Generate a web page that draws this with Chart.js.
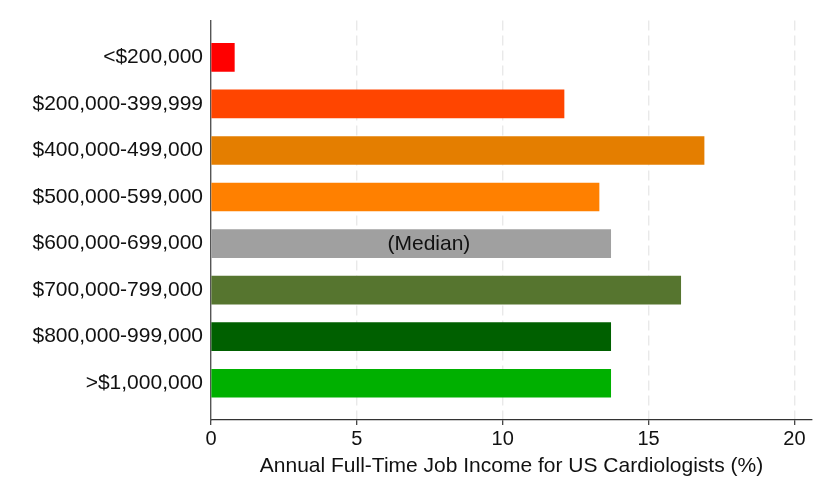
<!DOCTYPE html>
<html>
<head>
<meta charset="utf-8">
<script src="https://cdn.jsdelivr.net/npm/chart.js@4"></script>
<style>
html,body{margin:0;padding:0;background:#fff;}
#wrap{width:831px;height:499px;position:relative;}
</style>
</head>
<body>
<div id="wrap"><canvas id="c" width="831" height="499"></canvas></div>
<script>
const categories = ['<$200,000','$200,000-399,999','$400,000-499,000','$500,000-599,000','$600,000-699,000','$700,000-799,000','$800,000-999,000','>$1,000,000'];
const values = [0.8, 12.1, 16.9, 13.3, 13.7, 16.1, 13.7, 13.7];
const barColors = ['#FF0000','#FF4500','#E47E00','#FF8000','#A0A0A0','#56752F','#006000','#00B000'];
const xTicks = [0, 5, 10, 15, 20];
const xTitle = 'Annual Full-Time Job Income for US Cardiologists (%)';
const medianIndex = 4;
const medianText = '(Median)';

const FONT = "'Liberation Sans', Arial, sans-serif";

const medianPlugin = {
  id: 'medianLabel',
  afterDatasetsDraw(chart) {
    const ctx = chart.ctx;
    const xs = chart.scales.x, ys = chart.scales.y;
    ctx.save();
    ctx.font = '21px ' + FONT;
    ctx.fillStyle = '#111';
    ctx.textAlign = 'center';
    ctx.textBaseline = 'middle';
    ctx.fillText(medianText, xs.getPixelForValue(7.47), ys.getPixelForValue(medianIndex) + 1);
    ctx.restore();
  }
};

new Chart(document.getElementById('c'), {
  type: 'bar',
  data: {
    datasets: [{
      data: values.map((v, i) => ({x: v, y: i})),
      backgroundColor: barColors,
      borderWidth: 0,
      barThickness: 28
    }]
  },
  options: {
    indexAxis: 'y',
    responsive: false,
    animation: false,
    layout: {padding: {top: 18, right: 19, left: 0, bottom: 0}},
    plugins: {legend: {display: false}, tooltip: {enabled: false}},
    scales: {
      x: {
        type: 'linear',
        min: 0,
        max: 20.6,
        offset: false,
        afterBuildTicks: s => { s.ticks = xTicks.map(v => ({value: v})); },
        afterFit: s => { s.height = 79; },
        border: {display: true, color: '#333', width: 1.2, dash: [10, 5]},
        grid: {
          color: ctx => ctx.tick && ctx.tick.value === 0 ? 'rgba(0,0,0,0)' : '#e9e9e9',
          lineWidth: 1.4,
          tickColor: '#333',
          tickLength: 5,
          tickWidth: 1.2,
          tickBorderDash: []
        },
        ticks: {
          color: '#111',
          padding: 2,
          font: {family: FONT, size: 20},
          maxRotation: 0
        },
        title: {
          display: true,
          text: xTitle,
          color: '#111',
          font: {family: FONT, size: 21},
          padding: {top: 0, bottom: 20}
        }
      },
      y: {
        type: 'linear',
        reverse: true,
        offset: false,
        min: -0.79,
        max: 7.79,
        afterBuildTicks: s => { s.ticks = categories.map((_, i) => ({value: i})); },
        afterFit: s => { s.width = 211; },
        border: {display: true, color: '#555', width: 1.4},
        grid: {display: false, drawTicks: false},
        ticks: {
          color: '#111',
          padding: 8,
          font: {family: FONT, size: 21},
          callback: v => categories[v] !== undefined ? categories[v] : ''
        }
      }
    }
  },
  plugins: [medianPlugin]
});
</script>
</body>
</html>
